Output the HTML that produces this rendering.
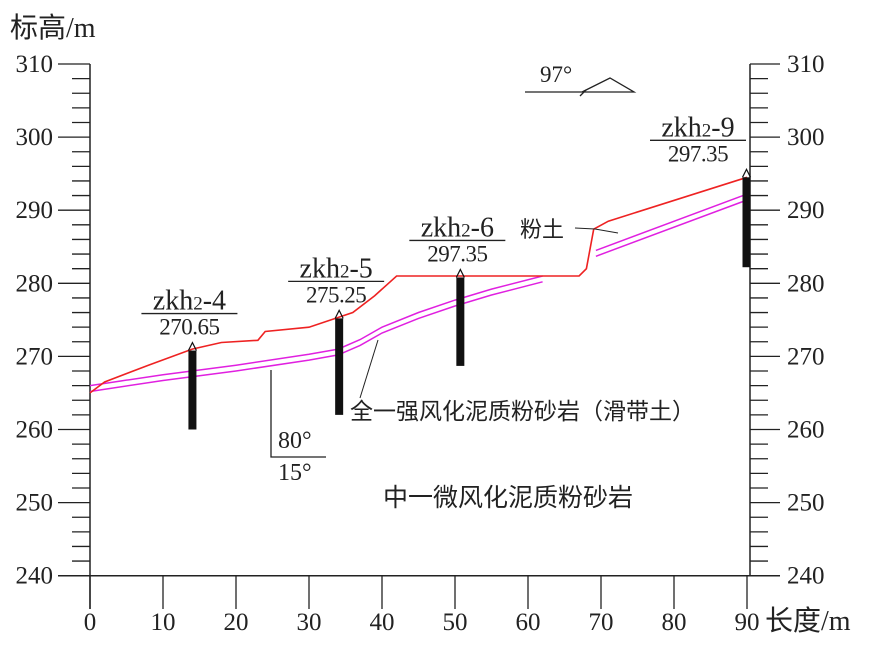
<!DOCTYPE html>
<html><head><meta charset="utf-8"><style>
body{margin:0;background:#fff;}
svg text{font-family:"Liberation Serif","Noto Serif CJK SC",serif;fill:#222;}
.cjk{font-family:"Liberation Serif","Noto Sans CJK SC",sans-serif;}
</style></head><body>
<svg id="chart" width="891" height="643" viewBox="0 0 891 643" xmlns="http://www.w3.org/2000/svg">
<g id="axes"></g>
<g id="layers"></g>
<g id="bores"></g>
<text x="10" y="37" font-size="28" class="cjk">标高/m</text>
<text x="765" y="630" font-size="28" class="cjk">长度/m</text>
<g>
<text x="540" y="82" font-size="23">97°</text>
<polyline points="525,92 634,92 610,78 582,92" fill="none" stroke="#222" stroke-width="1.3"/>
<line x1="580" y1="96" x2="586" y2="90" stroke="#222" stroke-width="1.3"/>
</g>
<g>
<polyline points="271,370 271,457 326,457" fill="none" stroke="#222" stroke-width="1.3"/>
<text x="278" y="448" font-size="24">80°</text>
<text x="278" y="480" font-size="24">15°</text>
</g>
<g>
<text x="520" y="237" font-size="22" class="cjk">粉土</text>
<polyline points="575,228 595,229 618,233" fill="none" stroke="#222" stroke-width="1"/>
</g>
<g>
<text x="350" y="419" font-size="23" class="cjk">全一强风化泥质粉砂岩（滑带土）</text>
<line x1="360" y1="398" x2="378" y2="340" stroke="#222" stroke-width="1"/>
</g>
<text x="383" y="506" font-size="25" class="cjk">中一微风化泥质粉砂岩</text>
<script>
const yTicks=[240,250,260,270,280,290,300,310];
const xTicks=[0,10,20,30,40,50,60,70,80,90];
const groundX=[0,2,8,14,18,23,24,30,33,36,39,42,67,68,69,71,90];
const groundY=[265,266.5,268.8,271,271.9,272.2,273.4,274,275,276,278.3,281,281,282,287.4,288.5,294.5];
const slipTopX=[0,10,20,30,34,37,40,45,50,55,62];
const slipTopY=[266,267.5,268.8,270.3,271,272.3,274,276,277.7,279.2,281];
const slipTop2X=[69.3,90];
const slipTop2Y=[284.5,292.2];
const slipOffset=[0.8];
const boreNames=["zkh2-4","zkh2-5","zkh2-6","zkh2-9"];
const boreElev=["270.65","275.25","297.35","297.35"];
const boreX=[14.1,34.2,50.8,90];
const boreTop=[270.8,275.2,280.8,294.5];
const boreBottom=[260,262,268.7,282.2];
const ns="http://www.w3.org/2000/svg";
const X=v=>90+v*7.3;
const Y=v=>64+(310-v)*7.31;
function mk(t,a,p){const e=document.createElementNS(ns,t);for(const k in a)e.setAttribute(k,a[k]);p.appendChild(e);return e;}
const ax=document.getElementById('axes');
let e;
e=mk('line',{x1:90,y1:Y(310),x2:90,y2:609,stroke:'#222','stroke-width':1.5},ax);


e=mk('line',{x1:750,y1:Y(310),x2:750,y2:Y(240),stroke:'#222','stroke-width':1.5},ax);


e=mk('line',{x1:58,y1:Y(240),x2:780,y2:Y(240),stroke:'#222','stroke-width':1.5},ax);


for(let v=240;v<=310;v+=2){const maj=(v%10===0);
 mk('line',{x1:maj?58:72,y1:Y(v),x2:90,y2:Y(v),stroke:'#222','stroke-width':1.3},ax);
 mk('line',{x1:750,y1:Y(v),x2:maj?780:768,y2:Y(v),stroke:'#222','stroke-width':1.3},ax);}
yTicks.forEach(v=>{
 e=mk('text',{x:53,y:Y(v)+8,'font-size':25,'text-anchor':'end'},ax);e.textContent=v;
 
 
 e=mk('text',{x:787,y:Y(v)+8,'font-size':25},ax);e.textContent=v;
 
 });
xTicks.forEach(v=>{
 mk('line',{x1:X(v),y1:Y(240),x2:X(v),y2:609,stroke:'#222','stroke-width':1.3},ax);
 e=mk('text',{x:X(v),y:630,'font-size':25,'text-anchor':'middle'},ax);e.textContent=v;
 
 });
const ly=document.getElementById('layers');
const pts=(xs,ys,o)=>xs.map((x,i)=>X(x)+','+(Y(ys[i]-o)).toFixed(1)).join(' ');
[[slipTopX,slipTopY],[slipTop2X,slipTop2Y]].forEach(([xs,ys])=>{
 e=mk('polyline',{points:pts(xs,ys,0),fill:'none',stroke:'#e020e0','stroke-width':1.5},ly);
 
 
 e=mk('polyline',{points:pts(xs,ys,slipOffset[0]),fill:'none',stroke:'#e020e0','stroke-width':1.5},ly);
 
 });
e=mk('polyline',{points:pts(groundX,groundY,0),fill:'none',stroke:'#ee2222','stroke-width':1.6},ly);


const bg=document.getElementById('bores');
boreNames.forEach((n,i)=>{
 const g=mk('g',{},bg);
 
 
 const x=X(boreX[i])-0.5, t=Y(boreTop[i]);
 mk('rect',{x:x-4,y:t,width:8,height:Y(boreBottom[i])-t,fill:'#111'},g);
 mk('polyline',{points:`${x-4},${t} ${x},${t-8} ${x+4},${t}`,fill:'none',stroke:'#111','stroke-width':1.2},g);
 const lx=Math.min(x-3,698), ly2=t-37;
 const t1=mk('text',{x:lx,y:ly2-4,'font-size':28,'text-anchor':'middle'},g);
 const a=mk('tspan',{},t1); a.textContent='zkh';
 const b=mk('tspan',{'font-size':19},t1); b.textContent='2';
 const c=mk('tspan',{},t1); c.textContent='-'+n.split('-')[1];
 mk('line',{x1:lx-48,y1:ly2,x2:lx+48,y2:ly2,stroke:'#222','stroke-width':1.3},g);
 const t2=mk('text',{x:lx,y:ly2+21,'font-size':23,'text-anchor':'middle','font-family':'Liberation Mono, monospace','letter-spacing':'-0.5'},g);
 t2.textContent=boreElev[i];
});
</script>
</svg>
</body></html>
